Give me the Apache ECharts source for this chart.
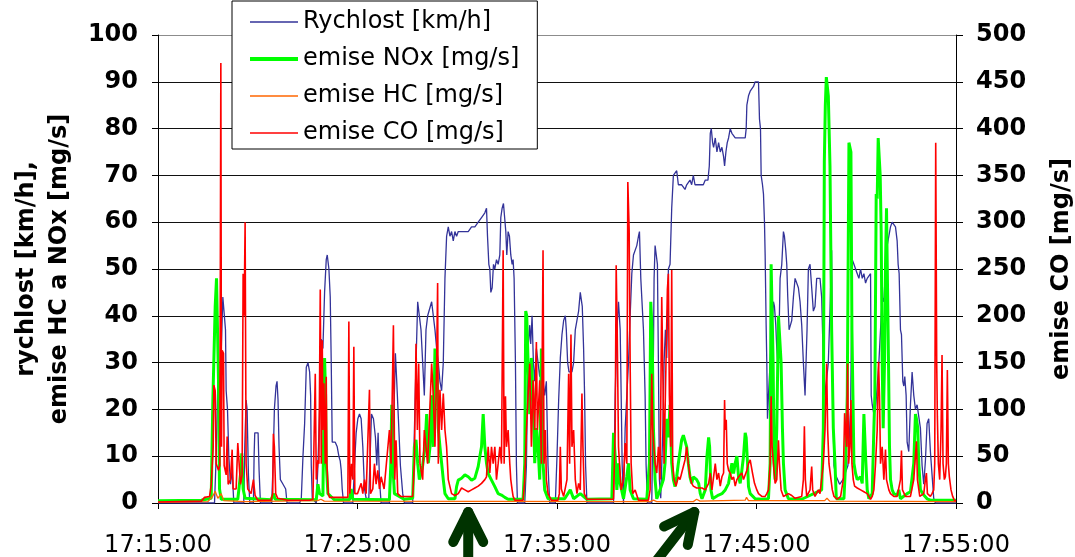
<!DOCTYPE html>
<html>
<head>
<meta charset="utf-8">
<title>Rychlost a emise</title>
<script src="https://cdn.jsdelivr.net/npm/echarts@6/dist/echarts.min.js"></script>
<style>
html, body { margin: 0; padding: 0; background: #fff; }
#chart { width: 1075px; height: 557px; }
</style>
</head>
<body>
<div id="chart"></div>
<script>
// cas v sekundach od 17:15:00
var xLabels = ['17:15:00', '17:25:00', '17:35:00', '17:45:00', '17:55:00'];
var leftTicks = [0, 100, 10];
var rightTicks = [0, 500, 50];

// rychlost [km/h]
var speed = [[0,0],[170,0],[175,10],[180,26],[185,22],[190,32],[195,44],[200,44],[203,37],[205,24],[209,20],[213,10],[218,4],[223,7],[228,0],[258,0],[261,12],[265,22],[268,20],[272,6],[276,0],[287,0],[289,10],[291,15],[301,15],[304,7],[308,0],[342,0],[346,8],[350,20],[355,25],[358,26],[361,22],[364,12],[368,5],[376,4],[381,4],[384,3],[388,0],
[426,0],[431,1],[436,10],[441,17],[446,29],[451,30],[456,28],[459,23],[461,8],[464,1],[476,0],[481,8],[486,20],[491,35],[496,33],[501,45],[506,52],[509,53],[514,50],[518,44],[521,30],[524,13],[528,13],[533,13],[539,12],[544,10],[548,9],[551,7],[554,3],[558,0],
[586,0],[591,8],[596,15],[601,18],[606,19],[611,18],[616,12],[621,3],[626,1],[634,1],[638,10],[642,19],[648,18],[654,14],[658,8],[662,15],[666,5],[671,0],
[696,0],[702,8],[708,15],[714,32],[718,26],[723,18],[729,8],[736,2],[741,0],
[766,0],[771,15],[776,30],[781,43],[786,40],[791,37],[796,30],[801,23],[806,37],[811,40],[816,40],[823,43],[828,43],[833,37],[838,33],[843,30],[848,26],[853,24],[858,30],[863,48],[868,57],[873,59],[878,57],[883,58],[888,56],[893,58],[898,57],[903,58],[913,58],[923,58],[933,58],[943,59],[953,59],[963,60],[973,61],[983,62],[988,63],[991,57],[995,51],[998,50],[1001,45],[1005,46],[1009,51],[1013,50],[1018,52],[1023,51],[1028,53],[1031,61],[1035,63],[1039,64],[1043,64],[1046,58],[1049,53],[1053,58],[1057,57],[1061,53],[1065,51],[1068,52],[1071,48],[1075,30],[1078,8],[1081,0],
[1103,0],[1108,8],[1113,33],[1118,38],[1121,34],[1125,40],[1129,30],[1133,26],[1138,33],[1143,30],[1148,27],[1153,30],[1158,26],[1163,23],[1168,26],[1173,8],[1178,0],
[1195,0],[1200,10],[1205,22],[1210,31],[1215,36],[1220,39],[1225,40],[1228,37],[1232,30],[1236,28],[1240,28],[1245,28],[1250,30],[1255,37],[1260,39],[1265,41],[1270,45],[1273,45],[1276,42],[1280,33],[1283,23],[1286,8],[1290,0],
[1370,0],[1375,23],[1380,37],[1385,43],[1390,37],[1393,23],[1396,8],[1400,0],[1405,16],[1410,23],[1415,30],[1420,40],[1425,49],[1430,53],[1435,53],[1440,55],[1445,57],[1448,58],[1452,48],[1456,48],[1460,37],[1465,23],[1468,8],[1472,0],
[1485,0],[1488,16],[1492,48],[1495,55],[1498,55],[1502,51],[1505,30],[1508,5],[1512,1],[1518,15],[1522,30],[1526,37],[1530,31],[1535,50],[1540,51],[1545,63],[1550,70],[1555,70],[1560,71],[1565,68],[1570,68],[1575,68],[1580,68],[1585,67],[1590,68],[1595,68],[1600,69],[1605,68],[1610,70],[1615,68],[1620,68],[1625,68],[1630,68],[1640,68],[1646,69],[1654,69],[1658,72],[1661,79],[1664,80],[1668,77],[1671,76],[1676,78],[1681,75],[1686,77],[1691,75],[1696,76],[1701,74],[1704,72],[1708,75],[1712,77],[1716,78],[1721,80],[1726,79],[1731,79],[1736,78],[1741,78],[1746,78],[1751,78],[1756,78],[1761,78],[1766,78],[1769,80],[1771,85],[1776,87],[1781,88],[1786,88],[1791,89],[1796,90],[1801,90],[1806,90],[1809,82],[1812,80],[1814,70],[1818,68],[1821,66],[1824,60],[1826,53],[1829,38],[1831,30],[1833,18],[1836,23],[1841,30],[1846,37],[1851,43],[1854,42],[1858,38],[1861,33],[1864,30],[1868,37],[1871,48],[1876,51],[1881,58],[1884,57],[1888,54],[1891,51],[1894,44],[1898,37],[1902,38],[1906,39],[1911,44],[1916,48],[1921,48],[1926,46],[1931,43],[1936,38],[1941,30],[1946,23],[1949,30],[1952,37],[1956,50],[1961,51],[1966,46],[1971,41],[1976,42],[1981,48],[1986,48],[1991,48],[1996,44],[2001,30],[2006,23],[2016,30],[2021,41],[2026,54],[2028,30],[2033,8],[2038,6],[2050,4],[2060,5],[2075,8],[2083,20],[2088,52],[2093,51],[2098,50],[2103,49],[2108,48],[2113,50],[2118,48],[2123,49],[2128,47],[2133,48],[2138,48],[2143,49],[2145,23],[2148,21],[2153,19],[2158,20],[2168,30],[2178,44],[2183,43],[2188,50],[2193,55],[2198,57],[2203,59],[2208,60],[2213,60],[2218,59],[2223,56],[2226,51],[2229,49],[2233,37],[2236,36],[2240,26],[2243,25],[2246,27],[2250,23],[2253,13],[2258,11],[2263,21],[2268,28],[2273,23],[2278,20],[2283,21],[2288,21],[2293,16],[2298,8],[2303,4],[2308,9],[2313,17],[2318,18],[2323,11],[2328,6],[2333,1],[2338,0],[2400,0]];

// emise NOx [mg/s]
var nox = [[0,0.5],[130,0.6],[160,1],[165,22],[172,42],[176,48],[180,48],[182,26],[185,3],[190,0.8],[240,0.8],[248,6],[252,10.6],[256,3],[262,1],[340,0.7],[348,2],[352,0.8],[476,0.7],[481,4],[486,2],[496,1.5],[501,31],[504,23],[506,8.5],[511,2],[530,0.7],[576,0.7],[581,3],[586,0.8],[696,0.7],[700,8],[703,21],[706,8.5],[711,2],[740,0.8],[766,1],[771,12],[776,13.5],[781,8.5],[786,5],[796,8],[803,12],[808,19],[813,8.5],[818,12],[823,23],[828,12],[833,33],[838,30],[843,16],[848,12],[853,8.5],[858,5],[863,2],[873,0.9],[893,0.9],[898,3.5],[903,4.9],[913,5.3],[923,6],[933,5.6],[943,4.9],[953,5.3],[963,7.8],[968,10],[973,12],[978,19],[983,12],[988,8.5],[993,6.3],[1003,4.9],[1013,3.5],[1023,2],[1033,1.7],[1043,1.2],[1053,0.8],[1098,0.8],[1103,8.5],[1106,41],[1109,40],[1113,30],[1118,19],[1123,31],[1128,23],[1133,8.5],[1138,16],[1143,12],[1148,5],[1153,33],[1158,8.5],[1163,2.8],[1173,0.9],[1223,0.9],[1240,2.8],[1250,0.9],[1270,2],[1290,0.8],[1365,0.9],[1370,15],[1375,10],[1380,2.8],[1385,8.5],[1390,4.2],[1400,0.9],[1410,5.6],[1415,8.5],[1420,2.8],[1430,0.9],[1470,0.8],[1478,8.5],[1482,43],[1486,37],[1490,16],[1495,5],[1500,0.9],[1510,2.8],[1520,5],[1525,8.5],[1530,18],[1535,14],[1540,21],[1545,8.5],[1550,5],[1555,3.5],[1560,5.6],[1565,8.5],[1570,11],[1575,13.5],[1580,14.5],[1585,14.5],[1590,12],[1595,8.5],[1600,5.6],[1605,4.2],[1610,5.6],[1620,5],[1626,4.2],[1631,2],[1636,0.9],[1646,2.8],[1651,10],[1656,14],[1659,12],[1663,2.8],[1668,0.9],[1686,1.7],[1696,2],[1706,2.8],[1716,4.2],[1721,6.3],[1726,8.5],[1731,6.3],[1736,8.5],[1741,10],[1746,5.6],[1751,4.2],[1756,7],[1761,10],[1766,15],[1769,14],[1773,8.5],[1776,3.5],[1781,2],[1796,0.9],[1816,0.8],[1836,0.9],[1841,8.5],[1844,51],[1847,51],[1850,30],[1853,8.5],[1856,5],[1861,16],[1866,40],[1871,40],[1874,30],[1878,16],[1881,8.5],[1886,2.8],[1896,0.9],[1936,0.8],[1996,2.8],[2001,16],[2004,73],[2007,85],[2010,91],[2013,91],[2016,87],[2021,72],[2026,37],[2031,16],[2036,8.5],[2040,0.9],[2063,0.9],[2068,8.5],[2073,23],[2078,77],[2081,77],[2084,75],[2087,37],[2090,23],[2093,8.5],[2098,6.3],[2103,5],[2113,5.6],[2118,4.2],[2123,19],[2126,19],[2129,8.5],[2133,2.8],[2138,0.9],[2143,0.8],[2148,2],[2153,16],[2156,23],[2160,66],[2163,65],[2166,78],[2169,78],[2172,70],[2175,58],[2178,30],[2181,16],[2185,30],[2188,51],[2191,63],[2194,63],[2197,30],[2200,12],[2203,5],[2208,2.8],[2213,2],[2223,1.7],[2228,2.8],[2233,0.9],[2253,2],[2263,2.4],[2273,8.5],[2278,19],[2281,18],[2285,16],[2288,8.5],[2293,2.8],[2303,1.7],[2313,0.9],[2323,0.6],[2400,0.6]];

// emise HC [mg/s]
var hc = [[0,0.2],[150,0.3],[165,1.5],[172,2.5],[180,1],[190,2],[198,0.5],[260,0.3],[480,0.5],[490,0.8],[500,0.4],[1480,0.3],[1490,0.6],[1500,0.3],[1610,0.3],[1620,0.8],[1630,0.4],[1766,0.6],[1770,1.2],[1776,0.5],[2005,0.5],[2012,1],[2020,0.4],[2400,0.3]];

// emise CO [mg/s] (prava osa)
var co = [[0,1],[130,2],[140,6],[155,7],[160,19],[166,60],[168,126],[172,120],[175,42],[182,35],[186,40],[189,470],[191,60],[193,163],[197,160],[199,40],[205,30],[208,71],[211,20],[218,25],[223,57],[226,15],[235,15],[240,64],[245,62],[248,20],[253,30],[256,245],[259,200],[262,300],[265,42],[270,15],[280,10],[287,25],[292,8],[300,3],[340,3],[345,10],[347,74],[350,60],[354,10],[360,5],[390,3],[456,3],[466,4],[471,4],[473,138],[476,25],[481,46],[484,42],[488,228],[491,42],[494,174],[496,78],[499,128],[503,42],[506,135],[508,42],[512,10],[516,6],[571,6],[574,194],[577,10],[582,42],[586,25],[589,167],[592,10],[600,10],[611,21],[616,10],[621,25],[626,10],[636,121],[639,10],[646,15],[651,42],[656,20],[661,35],[666,15],[671,28],[680,15],[696,78],[701,42],[708,190],[712,25],[716,67],[721,10],[730,7],[766,7],[771,42],[776,170],[780,78],[784,149],[788,42],[796,25],[801,78],[806,60],[811,42],[823,149],[828,114],[833,60],[838,149],[841,235],[843,42],[848,121],[853,78],[858,117],[863,78],[868,60],[873,25],[883,10],[893,8],[903,10],[913,16],[923,14],[933,12],[943,14],[953,16],[963,18],[973,21],[983,25],[988,28],[993,60],[998,32],[1003,60],[1008,42],[1013,60],[1018,25],[1023,42],[1028,60],[1033,42],[1038,270],[1041,42],[1045,114],[1048,60],[1053,78],[1058,42],[1061,25],[1065,14],[1068,7],[1073,3],[1098,3],[1103,25],[1108,78],[1113,114],[1118,149],[1123,60],[1128,131],[1133,78],[1138,172],[1141,78],[1148,131],[1153,42],[1158,270],[1161,42],[1165,78],[1168,25],[1173,10],[1183,3],[1203,3],[1207,10],[1210,60],[1213,15],[1220,7],[1230,25],[1235,138],[1238,42],[1242,180],[1245,60],[1250,78],[1255,25],[1260,10],[1265,21],[1270,14],[1275,117],[1278,60],[1282,10],[1290,4],[1370,4],[1375,78],[1378,254],[1381,185],[1385,60],[1388,42],[1393,14],[1400,25],[1405,64],[1410,42],[1413,343],[1417,292],[1420,149],[1423,42],[1428,10],[1435,14],[1440,12],[1445,3],[1475,3],[1480,14],[1485,138],[1488,78],[1495,42],[1500,32],[1505,60],[1510,25],[1515,220],[1518,149],[1522,42],[1528,42],[1532,228],[1535,245],[1538,114],[1542,60],[1545,249],[1548,42],[1552,25],[1558,18],[1565,28],[1570,25],[1575,32],[1580,32],[1585,46],[1590,60],[1595,42],[1600,28],[1605,21],[1610,18],[1620,16],[1626,14],[1636,16],[1646,14],[1656,21],[1661,32],[1666,14],[1671,28],[1676,42],[1681,25],[1686,32],[1691,18],[1696,28],[1701,32],[1704,110],[1706,78],[1709,89],[1712,42],[1716,35],[1721,32],[1726,25],[1731,28],[1736,18],[1741,25],[1746,28],[1756,32],[1761,25],[1766,26],[1771,35],[1776,42],[1781,46],[1784,46],[1788,32],[1794,21],[1801,14],[1806,10],[1816,7],[1826,7],[1831,10],[1836,14],[1841,42],[1844,114],[1847,60],[1851,42],[1856,21],[1861,25],[1866,67],[1869,42],[1874,14],[1881,7],[1896,10],[1906,8],[1916,5],[1936,7],[1941,25],[1944,82],[1947,25],[1951,7],[1961,14],[1966,39],[1969,14],[1976,7],[1986,14],[1991,10],[1996,12],[2001,42],[2006,78],[2011,149],[2014,78],[2018,42],[2023,42],[2028,14],[2033,7],[2043,4],[2053,7],[2061,25],[2065,96],[2068,78],[2071,60],[2074,149],[2077,42],[2081,60],[2084,110],[2087,42],[2091,25],[2095,18],[2103,16],[2113,14],[2123,12],[2133,10],[2138,7],[2143,4],[2148,7],[2153,14],[2158,42],[2163,78],[2167,151],[2170,114],[2173,42],[2178,60],[2183,25],[2188,57],[2191,25],[2198,14],[2203,10],[2213,7],[2223,7],[2233,25],[2236,56],[2239,14],[2248,7],[2263,7],[2273,25],[2281,66],[2284,25],[2291,7],[2303,10],[2308,25],[2311,32],[2314,10],[2323,7],[2328,10],[2333,14],[2336,42],[2339,385],[2342,149],[2344,92],[2347,42],[2351,25],[2355,78],[2358,158],[2361,42],[2365,25],[2368,28],[2371,42],[2374,142],[2377,42],[2380,28],[2385,14],[2390,7],[2395,3],[2400,2]];

// sipky pod osou (cas hrotu, natoceni)
var arrowTimes = [930, 1610];
var arrowAngles = [0, 0.66];

var font = 'DejaVu Sans';
var myChart = echarts.init(document.getElementById('chart'));

var gridColors = [];
for (var i = 0; i < 11; i++) {
    gridColors.push(i === 10 ? '#8c8c8c' : '#111');
}

// ikona legendy = vodorovna cara dane tloustky
function lineIcon(w) {
    return 'path://M0,0L48,0L48,' + w + 'L0,' + w + 'Z';
}

function lineSeries(name, data, color, width, axis, z) {
    return {
        name: name,
        type: 'line',
        data: data,
        yAxisIndex: axis,
        symbol: 'none',
        z: z,
        lineStyle: { color: color, width: width },
        itemStyle: { color: color }
    };
}

var option = {
    animation: false,
    backgroundColor: '#fff',
    textStyle: { fontFamily: font },
    grid: { left: 158, right: 119, top: 35, bottom: 54, outerBoundsMode: 'none', containLabel: false },
    legend: {
        orient: 'vertical',
        left: 232,
        top: 1,
        selectedMode: false,
        backgroundColor: '#fff',
        borderColor: '#000',
        borderWidth: 1,
        padding: [8, 18, 3, 18],
        itemGap: 11,
        itemWidth: 48,
        itemHeight: 14,
        symbolKeepAspect: true,
        z: 20,
        textStyle: { fontFamily: font, fontSize: 24, color: '#000', lineHeight: 26 },
        data: [
            { name: 'Rychlost [km/h]', icon: lineIcon(1.3) },
            { name: 'emise NOx [mg/s]', icon: lineIcon(4) },
            { name: 'emise HC [mg/s]', icon: lineIcon(1.3) },
            { name: 'emise CO [mg/s]', icon: lineIcon(1.3) }
        ]
    },
    xAxis: {
        type: 'value',
        min: 0,
        max: 2400,
        interval: 600,
        axisLine: { lineStyle: { color: '#000', width: 1 } },
        axisTick: { show: true, length: 6, lineStyle: { color: '#000' } },
        splitLine: { show: false },
        axisLabel: {
            margin: 31,
            fontFamily: font,
            fontSize: 24,
            color: '#000',
            formatter: function (v) { return xLabels[Math.round(v / 600)]; }
        }
    },
    yAxis: [
        {
            type: 'value',
            min: leftTicks[0],
            max: leftTicks[1],
            interval: leftTicks[2],
            name: 'rychlost [km/h],\nemise HC a NOx [mg/s]',
            nameLocation: 'middle',
            nameRotate: 90,
            nameGap: 82,
            nameTextStyle: { fontFamily: font, fontSize: 24, fontWeight: 'bold', color: '#000', lineHeight: 33 },
            axisLine: { show: true, lineStyle: { color: '#000', width: 1 } },
            axisTick: { show: true, length: 6, lineStyle: { color: '#000' } },
            splitLine: { show: true, lineStyle: { color: gridColors, width: 1 } },
            axisLabel: { margin: 20, fontFamily: font, fontSize: 24, fontWeight: 'bold', color: '#000' }
        },
        {
            type: 'value',
            min: rightTicks[0],
            max: rightTicks[1],
            interval: rightTicks[2],
            position: 'right',
            name: 'emise CO [mg/s]',
            nameLocation: 'middle',
            nameRotate: 90,
            nameGap: 94,
            nameTextStyle: { fontFamily: font, fontSize: 24, fontWeight: 'bold', color: '#000' },
            axisLine: { show: true, lineStyle: { color: '#000', width: 1 } },
            axisTick: { show: true, length: 7, lineStyle: { color: '#000' } },
            splitLine: { show: false },
            axisLabel: { margin: 20, fontFamily: font, fontSize: 24, fontWeight: 'bold', color: '#000' }
        }
    ],
    series: [
        lineSeries('Rychlost [km/h]', speed, '#333399', 1.3, 0, 2),
        lineSeries('emise NOx [mg/s]', nox, '#00ff00', 3, 0, 3),
        lineSeries('emise HC [mg/s]', hc, '#ff6600', 1.3, 0, 4),
        lineSeries('emise CO [mg/s]', co, '#ff0000', 1.6, 1, 5)
    ]
};

myChart.setOption(option);

/* sipky pod osou x */
function rot(p, a) {
    return [p[0] * Math.cos(a) - p[1] * Math.sin(a), p[0] * Math.sin(a) + p[1] * Math.cos(a)];
}

var arrows = [];
arrowTimes.map(function (t, i) {
    var tipX = myChart.convertToPixel({ xAxisIndex: 0 }, t) + 1;
    var tipY = myChart.convertToPixel({ yAxisIndex: 0 }, 0) + 9;
    var a = arrowAngles[i];
    var shaft = [[0, 70], [0, 0]];
    var head = [[-15, 30], [0, 0], [15, 30]];
    function abs(list) {
        return list.map(function (p) { var r = rot(p, a); return [tipX + r[0], tipY + r[1]]; });
    }
    [shaft, head].map(function (l) {
        arrows.push({
            type: 'polyline',
            z: 30,
            shape: { points: abs(l) },
            style: { stroke: '#003300', lineWidth: 10, lineCap: 'round', lineJoin: 'round', fill: null }
        });
    });
});

myChart.setOption({ graphic: arrows });
</script>
</body>
</html>
